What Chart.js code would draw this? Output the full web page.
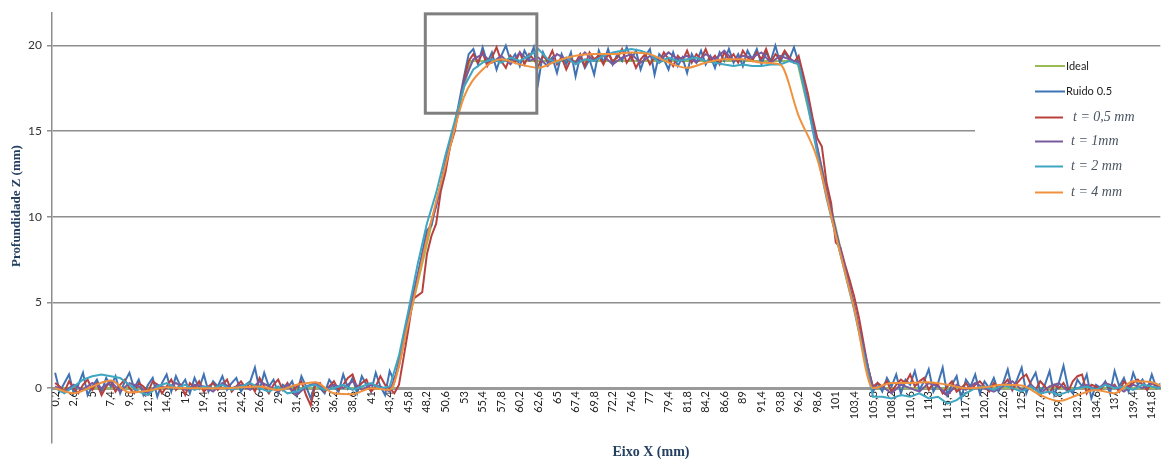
<!DOCTYPE html>
<html>
<head>
<meta charset="utf-8">
<script src="https://cdn.jsdelivr.net/npm/chart.js@4.4.1/dist/chart.umd.min.js"></script>
<style>
  html, body { margin: 0; padding: 0; background: #fff; overflow: hidden; }
</style>
</head>
<body>
<canvas id="chart" width="1168" height="459"></canvas>
<script>
// x tick labels (mm), one every 2.4 mm
const X_TICKS = ['0,2','2,6','5','7,4','9,8','12,2','14,6','17','19,4','21,8','24,2','26,6','29','31,4','33,8','36,2','38,6','41','43,4','45,8',
  '48,2','50,6','53','55,4','57,8','60,2','62,6','65','67,4','69,8','72,2','74,6','77','79,4','81,8','84,2','86,6','89','91,4','93,8',
  '96,2','98,6','101','103,4','105,8','108,2','110,6','113','115,4','117,8','120,2','122,6','125','127,4','129,8','132,2','134,6','137','139,4','141,8'];
const Y_TICKS = [0, 5, 10, 15, 20];

// sampling of each series: first x (mm) and step (mm)
const X0 = 0.2;
const STEP_FINE = 0.6;   // Ruido 0.5, t = 0,5 mm
const STEP_MID = 1.2;    // t = 1mm, t = 2 mm
const STEP_COARSE = 2.4; // t = 4 mm

const IDEAL_X = [0.2, 43.8, 53.8, 96.0, 105.8, 143.0];
const IDEAL_Y = [0, 0, 19.1, 19.1, 0, 0];

const RUIDO = [
  0.9,-0.2,0.3,0.8,-0.3,0.2,0.9,-0.4,0.1,0.5,
  -0.2,0.6,0.1,0.7,-0.3,0.4,0.9,0.0,0.5,-0.4,
  0.2,0.6,-0.5,0.3,0.8,-0.2,0.7,0.1,0.5,-0.3,
  0.6,0.0,0.8,-0.2,0.4,0.1,0.7,-0.1,0.3,0.6,
  -0.2,0.2,0.4,1.2,-0.1,0.9,0.1,0.5,-0.3,0.2,
  0.0,0.4,-0.4,0.7,0.1,-0.6,0.3,0.0,-0.3,0.5,
  0.1,-0.2,0.8,0.0,0.6,-0.3,0.7,0.2,-0.2,0.9,
  0.1,-0.4,1.0,
  0.4,1.6,3.0,4.3,5.5,6.6,7.9,9.2,9.5,10.8,11.9,13.2,14.3,15.4,16.8,18.2,19.5,
  19.8,18.9,19.9,19.0,19.6,18.6,19.4,20.0,19.1,19.5,
  18.8,19.7,19.2,19.9,17.9,19.6,19.0,19.3,18.4,19.5,
  18.9,19.6,18.2,19.4,18.7,19.2,18.3,19.7,19.0,19.8,
  18.9,19.5,19.1,19.9,19.2,19.7,18.6,19.4,19.8,18.3,
  19.5,19.2,18.6,19.6,18.8,19.3,18.4,19.5,19.0,19.7,
  18.9,19.4,18.7,19.6,19.1,19.8,19.0,19.5,18.8,19.7,
  19.2,19.8,18.9,19.6,19.1,20.0,19.0,19.6,19.2,19.9,
  19.0,
  17.9,16.6,15.3,13.9,12.6,11.3,10.1,9.0,7.9,6.9,5.8,4.7,3.4,2.1,0.9,-0.2,
  0.3,-0.2,0.6,0.1,0.8,-0.3,0.5,0.2,1.0,-0.1,
  0.4,1.1,-0.2,0.3,1.2,-0.4,0.2,0.7,-0.6,0.5,
  0.1,0.8,-0.3,0.4,0.0,0.6,-0.2,0.3,1.1,-0.1,
  0.5,1.2,-0.3,0.4,0.9,-0.2,0.2,1.0,-0.4,0.3,
  1.3,0.0,-0.3,0.5,0.1,0.8,-0.6,0.2,0.0,0.4,
  -0.3,1.0,0.1,0.6,-0.2,0.9,0.2,0.5,-0.1,0.8,
  0.0,0.3
];

const T05 = [
  0.3,0.1,-0.2,0.4,0.0,-0.3,0.2,0.5,-0.1,0.3,
  -0.4,0.1,0.4,-0.2,0.2,0.5,0.0,-0.3,0.3,0.1,
  -0.2,0.4,0.2,-0.3,0.1,0.5,-0.1,0.2,-0.4,0.3,
  0.0,0.4,-0.2,0.1,0.3,-0.1,0.2,0.5,-0.2,0.1,
  0.4,0.0,0.3,-0.2,0.6,0.1,-0.3,0.2,0.5,-0.1,
  0.3,-0.2,0.1,0.4,-0.4,-1.0,0.2,0.3,-0.2,0.1,
  0.4,-0.1,0.2,0.6,0.8,0.0,0.3,0.5,-0.2,0.1,
  0.7,0.2,0.0,
  -0.3,0.2,1.8,3.4,5.2,5.4,5.6,7.8,8.9,9.6,11.5,12.6,14.1,15.0,16.5,18.0,19.1,
  19.5,19.0,19.6,18.8,19.3,19.9,19.1,18.7,19.4,19.0,
  19.6,18.9,19.5,19.2,18.8,19.4,19.1,19.7,18.9,19.3,
  18.6,19.2,19.0,19.5,18.8,19.6,19.2,19.4,18.9,19.5,
  19.1,19.3,19.8,19.0,19.4,18.7,19.2,19.5,18.9,19.3,
  19.0,19.6,19.2,18.8,19.4,19.1,19.7,19.0,19.5,19.2,
  19.8,19.1,19.4,18.9,19.6,19.2,19.5,19.0,19.7,19.3,
  19.1,19.6,19.2,19.8,19.0,19.5,19.2,19.7,19.3,19.0,19.4,
  18.3,17.2,15.8,14.6,14.1,12.0,10.8,8.5,8.2,7.2,6.3,5.3,4.1,2.6,1.1,0.1,
  0.3,0.1,0.4,-0.2,0.2,0.5,0.3,0.8,0.1,0.4,
  0.6,-0.1,0.3,0.2,-0.3,0.1,0.4,-0.2,0.0,0.3,
  -0.1,0.2,0.4,0.1,-0.2,0.3,0.0,0.2,0.5,-0.1,
  0.3,0.6,0.8,0.2,-0.1,0.4,0.1,-0.3,0.2,0.0,
  0.3,-0.2,0.4,0.7,0.8,-0.3,0.2,0.1,-0.1,0.3,
  0.0,0.2,-0.2,0.4,0.1,0.3,0.5,0.2,-0.1,0.3,0.1,0.0
];

const T1 = [
  0.1,-0.2,0.2,-0.1,0.3,0.0,0.4,-0.2,0.3,0.1,
  -0.3,0.2,0.0,0.3,-0.1,0.2,0.1,-0.2,0.3,0.0,
  0.2,-0.1,0.4,0.1,-0.2,0.2,-0.4,0.1,0.3,-0.1,
  0.2,0.0,0.4,-0.1,0.2,0.1,-0.2,
  1.3,3.9,6.5,8.9,10.6,13.1,15.3,17.9,
  19.2,19.5,19.0,19.4,18.9,19.6,19.1,19.3,18.8,19.5,
  19.2,19.0,19.6,19.1,19.4,18.9,19.3,19.5,19.0,19.4,
  19.1,19.6,19.2,19.4,19.0,19.5,19.2,19.7,19.1,19.4,
  19.3,19.6,19.0,19.4,19.2,
  19.0,16.8,14.1,11.5,9.2,7.0,4.8,2.3,0.0,
  0.1,-0.3,0.2,0.0,-0.2,0.3,0.1,-0.4,0.2,-0.1,
  0.3,0.0,-0.2,0.1,0.4,-0.1,0.2,-0.3,0.1,0.3,
  -0.2,0.0,0.2,-0.1,0.3,0.1,-0.2,0.2,0.0,0.3,0.1
];

const T2 = [
  0.0,-0.3,0.1,0.5,0.7,0.8,0.7,0.6,0.2,-0.2,
  -0.4,0.1,0.3,0.0,0.2,-0.1,0.1,0.0,0.2,-0.1,
  0.1,0.3,0.0,-0.2,0.1,-0.3,-0.2,0.1,0.2,-0.1,
  0.0,0.2,-0.1,0.1,0.3,0.0,0.1,
  1.9,4.5,7.2,9.6,11.4,13.6,15.6,17.6,
  18.6,19.0,19.2,19.0,19.3,19.1,19.4,19.8,19.2,19.0,
  19.3,18.9,19.2,19.1,19.4,19.6,19.7,19.8,19.7,19.5,
  19.0,19.3,19.1,19.2,19.3,19.1,19.0,18.9,18.8,18.9,
  18.8,18.8,18.9,18.9,19.1,
  18.9,16.5,13.7,11.1,8.9,6.7,4.5,2.0,-0.5,
  -0.5,-0.6,-0.4,-0.5,-0.3,-0.6,-0.5,-0.9,-0.7,-0.3,
  0.0,0.1,-0.1,0.2,0.0,-0.2,0.1,-0.3,-0.2,-0.4,
  -0.2,0.0,0.1,-0.1,0.2,0.0,0.1,-0.1,0.2,0.1,0.0
];

const T4 = [
  0.0,-0.3,0.1,0.45,-0.25,-0.15,0.05,0.0,0.0,0.0,
  0.05,0.1,-0.1,0.2,0.35,-0.3,-0.35,0.0,-0.1,3.8,
  8.7,13.0,17.0,18.6,19.2,18.9,18.7,19.1,19.4,19.5,
  19.5,19.6,19.5,19.0,18.7,19.0,19.2,19.2,19.0,18.9,
  15.9,13.4,8.9,4.6,0.0,0.3,0.3,0.35,0.2,0.0,
  0.05,0.2,0.15,-0.4,-0.75,-0.4,-0.1,-0.3,0.4,0.35,
  -0.2
];

function sampled(x0, step, ys) {
  return ys.map((y, i) => ({ x: +(x0 + i * step).toFixed(1), y }));
}
function paired(xs, ys) {
  return xs.map((x, i) => ({ x, y: ys[i] }));
}
const tickValue = s => parseFloat(s.replace(',', '.'));

Chart.defaults.font.family = "Lato, 'Open Sans', sans-serif";

// legend box + zoom rectangle + axis titles
const decor = {
  id: 'decor',
  afterDatasetsDraw(chart) {
    const { ctx, scales: { x, y } } = chart;
    ctx.save();

    // gray rectangle around the rising corner
    const rx1 = x.getPixelForValue(48.0), rx2 = x.getPixelForValue(62.4);
    const ry1 = y.getPixelForValue(21.85), ry2 = y.getPixelForValue(16.05);
    ctx.strokeStyle = '#7f7f7f';
    ctx.lineWidth = 3;
    ctx.strokeRect(rx1, ry1, rx2 - rx1, ry2 - ry1);

    // legend
    ctx.fillStyle = '#fff';
    ctx.fillRect(975, 52, 193, 154);
    const rows = [66, 91.5, 117.5, 141.5, 166.5, 192.5];
    chart.data.datasets.forEach((ds, i) => {
      const yy = rows[i];
      ctx.strokeStyle = ds.borderColor;
      ctx.lineWidth = 2;
      ctx.beginPath();
      ctx.moveTo(1035, yy);
      ctx.lineTo(i < 2 ? 1065 : 1063, yy);
      ctx.stroke();
      ctx.textBaseline = 'middle';
      ctx.textAlign = 'left';
      if (i < 2) {
        ctx.fillStyle = '#222';
        ctx.font = "11px Lato, 'Open Sans', sans-serif";
        ctx.fillText(ds.label, 1066, yy);
      } else {
        ctx.fillStyle = '#4a5563';
        ctx.font = "italic 14px 'Liberation Serif', 'DejaVu Serif', serif";
        ctx.fillText(ds.label, i === 2 ? 1073 : 1071, yy);
      }
    });

    // axis titles
    ctx.fillStyle = '#243f60';
    ctx.textAlign = 'center';
    ctx.textBaseline = 'middle';
    ctx.font = "bold 13px 'Liberation Serif', serif";
    ctx.translate(17, 206);
    ctx.rotate(-Math.PI / 2);
    ctx.fillText('Profundidade Z (mm)', 0, 0);
    ctx.setTransform(1, 0, 0, 1, 0, 0);
    ctx.font = "bold 14px 'Liberation Serif', serif";
    ctx.fillText('Eixo X (mm)', 651, 452);
    ctx.restore();
  }
};

const line = (label, color, data, order, extra) => Object.assign({
  label, data, order,
  borderColor: color,
  borderWidth: 2,
  pointRadius: 0,
  fill: false,
  tension: 0
}, extra || {});

new Chart(document.getElementById('chart'), {
  type: 'line',
  data: {
    datasets: [
      line('Ideal', '#9bbb59', paired(IDEAL_X, IDEAL_Y), 5),
      line('Ruido 0.5', '#3f73b4', sampled(X0, STEP_FINE, RUIDO), 4),
      line('t = 0,5 mm', '#b8413e', sampled(X0, STEP_FINE, T05), 3),
      line('t = 1mm', '#7a5a9e', sampled(X0, STEP_MID, T1), 2),
      line('t = 2 mm', '#3ea6c0', sampled(X0, STEP_MID, T2), 1),
      line('t = 4 mm', '#f0913e', sampled(X0, STEP_COARSE, T4), 0, { cubicInterpolationMode: 'monotone' })
    ]
  },
  options: {
    responsive: false,
    animation: false,
    devicePixelRatio: 1,
    layout: { padding: { top: 13, bottom: 16, left: 0, right: 0 } },
    plugins: { legend: { display: false }, tooltip: { enabled: false } },
    scales: {
      x: {
        type: 'linear',
        position: { y: 0 },
        min: -0.2,
        max: 142.9,
        afterBuildTicks: s => { s.ticks = X_TICKS.map(t => ({ value: tickValue(t) })); },
        ticks: {
          autoSkip: false, minRotation: 90, maxRotation: 90, padding: 3,
          color: '#222', font: { size: 11 },
          callback: (v, i) => X_TICKS[i]
        },
        grid: { display: false, drawTicks: false },
        border: { display: true, color: '#9a9a9a', width: 3, dash: [3, 1.6] }
      },
      y: {
        min: -3.2,
        max: 21.9,
        afterBuildTicks: s => { s.ticks = Y_TICKS.map(v => ({ value: v })); },
        afterFit: s => { s.width = 52; },
        ticks: { color: '#333', font: { size: 12 }, padding: 5 },
        grid: {
          color: c => (c.tick && c.tick.value === 0) ? 'rgba(0,0,0,0)' : '#8e8e8e',
          lineWidth: 1.5, tickLength: 5, tickColor: '#8e8e8e'
        },
        border: { color: '#8e8e8e', width: 1.5 }
      }
    }
  },
  plugins: [decor]
});
</script>
</body>
</html>
